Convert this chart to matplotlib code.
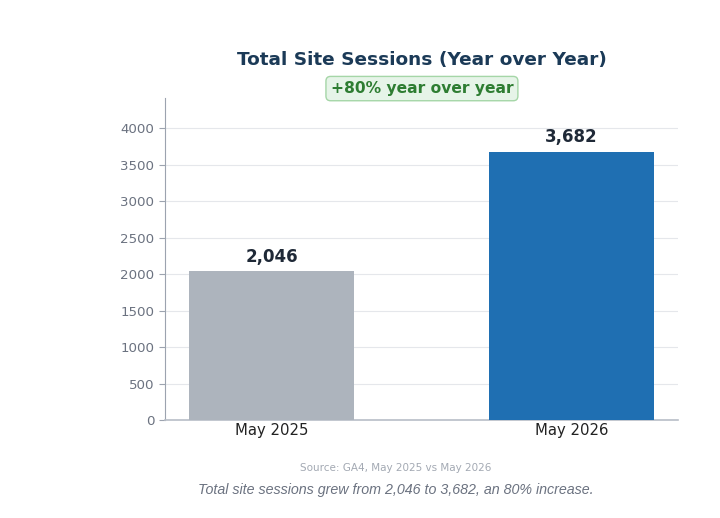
import matplotlib.pyplot as plt

# data
periods = ['May 2025', 'May 2026']
sessions = [2046, 3682]
bar_colors = ['#adb4bd', '#1f6fb2']
growth_label = '+80% year over year'
source_note = 'Source: GA4, May 2025 vs May 2026'
caption = 'Total site sessions grew from 2,046 to 3,682, an 80% increase.'

fig = plt.figure(figsize=(7.2, 5.18), dpi=100)
ax = fig.add_axes([0.229, 0.189, 0.713, 0.622])

x = range(len(periods))
bars = ax.bar(x, sessions, width=0.55, color=bar_colors, zorder=3)

ax.set_xlim(-0.355, 1.355)
ax.set_ylim(0, max(sessions) * 1.2)
ax.set_yticks(range(0, 4001, 500))
ax.set_xticks(list(x))
ax.set_xticklabels(periods, fontsize=10.7, color='#222222')
ax.tick_params(axis='y', labelsize=9.6, colors='#6b7280', length=4, color='#9ca3af')
ax.tick_params(axis='x', length=0, pad=2)
ax.yaxis.grid(True, color='#e5e7eb', linewidth=0.8, zorder=0)
ax.set_axisbelow(True)

for s in ['top', 'right']:
    ax.spines[s].set_visible(False)
ax.spines['left'].set_color('#9ca3af')
ax.spines['bottom'].set_color('#b8bec7')
ax.spines['bottom'].set_linewidth(1.2)

# value labels
for b, v in zip(bars, sessions):
    ax.text(b.get_x() + b.get_width() / 2, v + 70, f'{v:,}', ha='center', va='bottom',
            fontsize=12, fontweight='bold', color='#1f2937')

# title and badge
fig.text(0.586, 0.884, 'Total Site Sessions (Year over Year)', ha='center', va='center',
         fontsize=13.3, fontweight='bold', color='#1b3a57')
fig.text(0.586, 0.829, growth_label, ha='center', va='center', fontsize=11.2,
         fontweight='bold', color='#2e7d32',
         bbox=dict(boxstyle='round,pad=0.3', facecolor='#e6f4e8', edgecolor='#a5d6a7'))

# footnotes
fig.text(0.55, 0.097, source_note, ha='center', va='center', fontsize=7.5, color='#a3a9b3')
fig.text(0.55, 0.055, caption, ha='center', va='center', fontsize=10.3, style='italic',
         color='#6b7280', family='Liberation Sans')

fig.savefig('out.png', dpi=100)
